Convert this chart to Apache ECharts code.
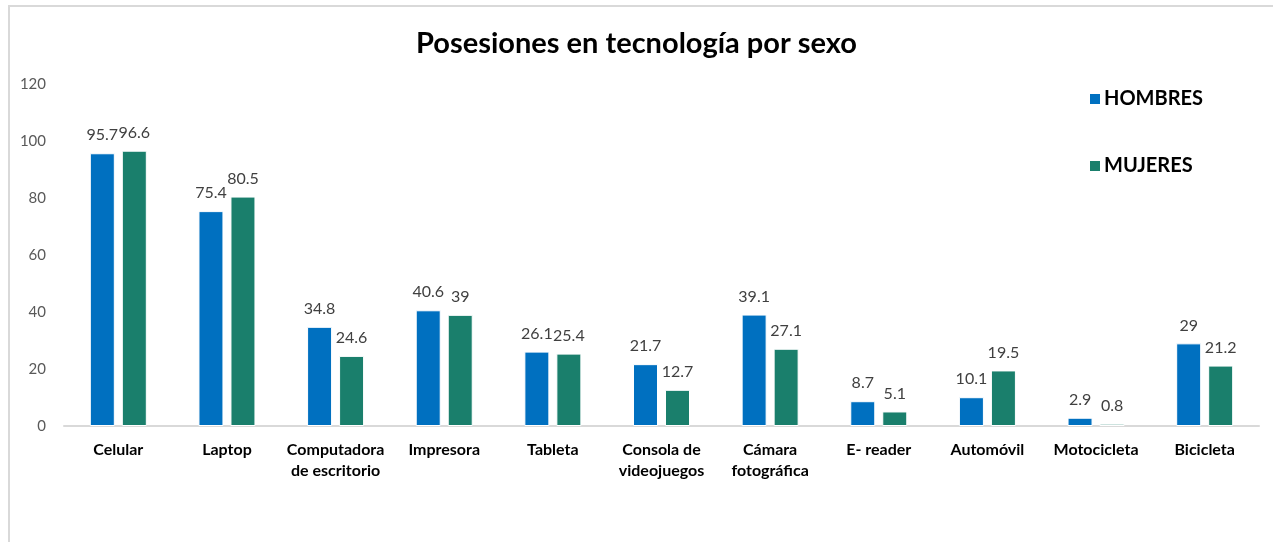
<!DOCTYPE html>
<html>
<head>
<meta charset="utf-8">
<script src="https://cdn.jsdelivr.net/npm/echarts@6/dist/echarts.min.js"></script>
<style>
html,body{margin:0;padding:0;background:#fff;}
#frame{position:absolute;left:8px;top:5px;width:1265px;height:537px;border-top:2px solid #d9d9d9;border-left:2px solid #d9d9d9;box-sizing:border-box;}
#chart{position:absolute;left:0;top:0;width:1273px;height:542px;}
</style>
</head>
<body>
<div id="frame"></div>
<div id="chart"></div>
<script>
const categories = ['Celular','Laptop','Computadora\nde escritorio','Impresora','Tableta','Consola de\nvideojuegos','Cámara\nfotográfica','E- reader','Automóvil','Motocicleta','Bicicleta'];
const hombres = [95.7, 75.4, 34.8, 40.6, 26.1, 21.7, 39.1, 8.7, 10.1, 2.9, 29];
const mujeres = [96.6, 80.5, 24.6, 39, 25.4, 12.7, 27.1, 5.1, 19.5, 0.8, 21.2];
const yTicks = [0, 20, 40, 60, 80, 100, 120];

const chart = echarts.init(document.getElementById('chart'));
const labelStyle = {show:true, position:'top', distance:10, color:'#404040', fontSize:16, fontFamily:'Lato'};
chart.setOption({
  animation:false,
  title:{text:'Posesiones en tecnología por sexo', left:'center', top:24,
    textStyle:{fontFamily:'Lato', fontWeight:'bold', fontSize:29, color:'#000'}},
  legend:{orient:'vertical', left:1083, top:84, itemWidth:12, itemHeight:12, itemGap:47,
    icon:'rect',
    textStyle:{fontFamily:'Lato', fontWeight:'bold', fontSize:20, color:'#000', padding:[0,0,0,-2]}},
  grid:{left:64, right:14, top:84, bottom:116},
  xAxis:{type:'category', data:categories,
    axisLine:{lineStyle:{color:'#d9d9d9', width:2}}, axisTick:{show:false},
    axisLabel:{interval:0, color:'#000', fontWeight:'bold', fontFamily:'Lato', fontSize:16, lineHeight:21, margin:13}},
  yAxis:{type:'value', min:yTicks[0], max:yTicks[yTicks.length-1], interval:20,
    splitLine:{show:false}, axisLine:{show:false}, axisTick:{show:false},
    axisLabel:{color:'#595959', fontFamily:'Lato', fontSize:15, margin:18}},
  series:[
    {name:'HOMBRES', type:'bar', data:hombres, barWidth:25, barGap:'28%',
      itemStyle:{color:'#0070C0', borderColor:'#fff', borderWidth:1}, label:labelStyle},
    {name:'MUJERES', type:'bar', data:mujeres, barWidth:25,
      itemStyle:{color:'#1a7f6c', borderColor:'#fff', borderWidth:1}, label:labelStyle}
  ]
});
</script>
</body>
</html>
